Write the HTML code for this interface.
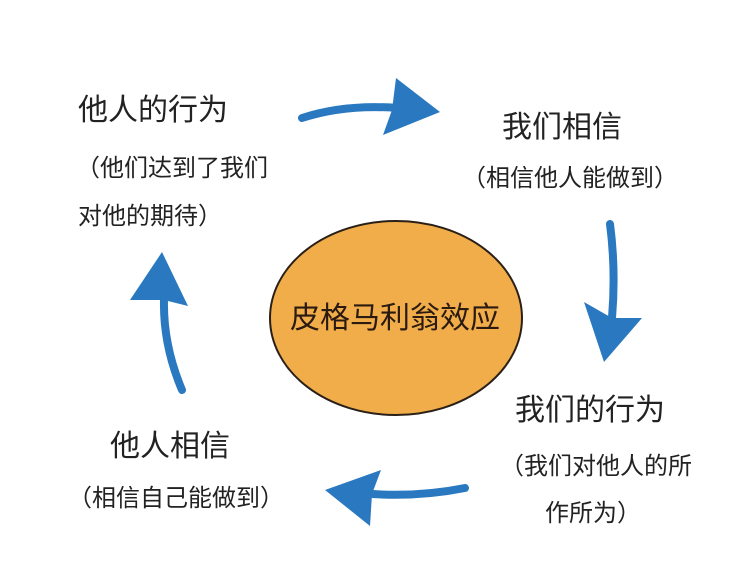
<!DOCTYPE html>
<html><head><meta charset="utf-8"><style>
html,body{margin:0;padding:0;background:#fff;}
#c{position:relative;width:740px;height:584px;overflow:hidden;font-family:"Liberation Sans","Noto Sans CJK SC",sans-serif;color:#222;}
.t{position:absolute;white-space:nowrap;line-height:1;}
.b{font-size:30px;}
.s{font-size:24px;}
</style></head><body><div id="c">
<svg width="740" height="584" style="position:absolute;left:0;top:0">
<ellipse cx="396" cy="318" rx="126" ry="97" fill="#f0ad4a" stroke="#2a2018" stroke-width="2"/>
<g fill="#2a79c0" stroke="#2a79c0">
<path d="M302 118 Q345 104 398 108" fill="none" stroke-width="8" stroke-linecap="round"/>
<polygon points="396,78 440,112 383,135 392,110" stroke="none"/>
<path d="M610 224 Q616 270 612 318" fill="none" stroke-width="8" stroke-linecap="round"/>
<polygon points="584,302 612,318 642,318 604,362" stroke="none"/>
<path d="M465 488 Q420 497 372 494" fill="none" stroke-width="8" stroke-linecap="round"/>
<polygon points="381,470 372,494 370,526 325,490" stroke="none"/>
<path d="M182 390 Q163 345 164 300" fill="none" stroke-width="8" stroke-linecap="round"/>
<polygon points="130,300 164,300 188,306 162,252" stroke="none"/>
</g>
</svg>
<div class="t b" style="left:78px;top:96px">他人的行为</div>
<div class="t s" style="left:76px;top:157px">（他们达到了我们</div>
<div class="t s" style="left:78px;top:205px">对他的期待）</div>
<div class="t b" style="left:502px;top:113px">我们相信</div>
<div class="t s" style="left:462px;top:167px">（相信他人能做到）</div>
<div class="t b" style="left:290px;top:304px;color:#2a1a10">皮格马利翁效应</div>
<div class="t b" style="left:515px;top:396px">我们的行为</div>
<div class="t s" style="left:500px;top:455px">（我们对他人的所</div>
<div class="t s" style="left:545px;top:502px">作所为）</div>
<div class="t b" style="left:110px;top:432px">他人相信</div>
<div class="t s" style="left:68px;top:487px">（相信自己能做到）</div>
</div></body></html>
